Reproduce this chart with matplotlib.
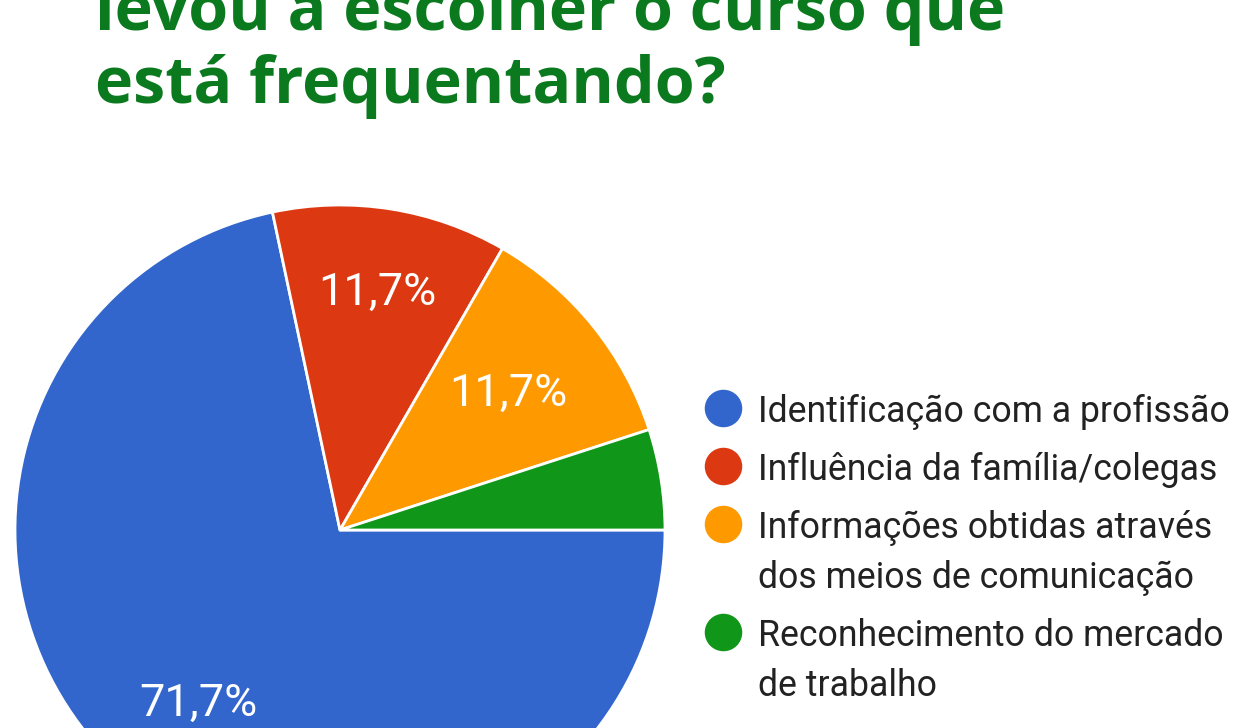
import numpy as np
import matplotlib
matplotlib.use("Agg")
import matplotlib.pyplot as plt

# answers to the survey question (counts out of 60)
categories = [
    "Identificação com a profissão",
    "Influência da família/colegas",
    "Informações obtidas através\ndos meios de comunicação",
    "Reconhecimento do mercado\nde trabalho",
]
counts = [43, 7, 7, 3]
colors = ["#3366cc", "#dc3912", "#ff9900", "#109618"]

title_lines = ["levou a escolher o curso que", "está frequentando?"]

# radial position of each percentage label (fraction of radius)
label_radius = [0.69, 0.74, 0.665, 0.7]

W, H = 1235, 728
fig = plt.figure(figsize=(W / 100, H / 100), dpi=100)

# pie centre and radius in pixels
cx, cy, r = 340, 530, 325
ax = fig.add_axes([(cx - r) / W, (H - cy - r) / H, 2 * r / W, 2 * r / H])


def pct_label(p):
    # google style: comma decimal, small slices unlabeled
    return (f"{p:.1f}".replace(".", ",") + "%") if p > 6 else ""


wedges, texts, autotexts = ax.pie(
    counts,
    colors=colors,
    startangle=0,
    counterclock=False,
    autopct=pct_label,
    pctdistance=0.72,
    wedgeprops=dict(edgecolor="white", linewidth=2),
    textprops=dict(color="white", fontsize=32.5, family="Roboto"),
)
# move the labels along their wedge's mid angle
for w, t, rad in zip(wedges, autotexts, label_radius):
    a = np.deg2rad((w.theta1 + w.theta2) / 2)
    t.set_position((rad * np.cos(a), rad * np.sin(a)))
ax.set_xlim(-1, 1)
ax.set_ylim(-1, 1)

# legend drawn by hand so the dot sits on the first line of wrapped labels
lax = fig.add_axes([0, 0, 1, 1])
lax.set_xlim(0, W)
lax.set_ylim(H, 0)
lax.axis("off")
y = 408
for label, c in zip(categories, colors):
    lax.plot(723, y, marker="o", markersize=26, color=c, linestyle="")
    for j, part in enumerate(label.split("\n")):
        lax.text(758, y + 50 * j, part, ha="left", va="center_baseline",
                 fontsize=25.7, family="Roboto", color="#222222")
    y += 58 + 50 * label.count("\n")

for i, line in enumerate(title_lines):
    fig.text(95 / W, 1 - (30 + 73 * i) / H, line, ha="left", va="baseline",
             fontsize=46.5, fontweight="bold", family="Open Sans", color="#0b7a1e")

fig.savefig("out.png", dpi=100)
